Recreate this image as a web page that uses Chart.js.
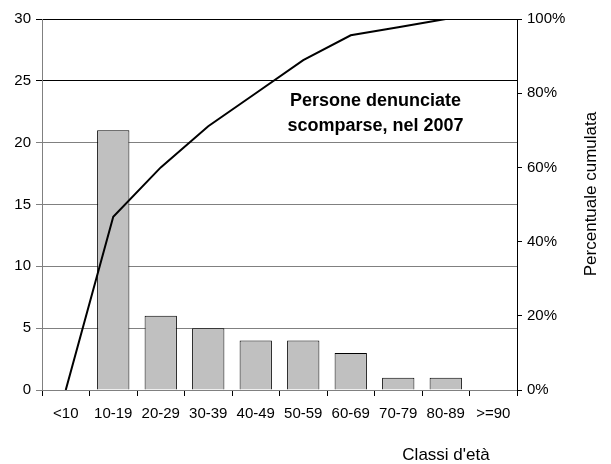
<!DOCTYPE html>
<html>
<head>
<meta charset="utf-8">
<script src="https://cdn.jsdelivr.net/npm/chart.js@4"></script>
<style>
html,body{margin:0;padding:0;background:#fff;}
#wrap{width:611px;height:464px;}
</style>
</head>
<body>
<div id="wrap"><canvas id="c" width="611" height="464"></canvas></div>
<script>
const categories = ['<10','10-19','20-29','30-39','40-49','50-59','60-69','70-79','80-89','>=90'];
const counts = [0, 21, 6, 5, 4, 4, 3, 1, 1, 0];
const cumulativePct = [0, 46.7, 60, 71.1, 80, 88.9, 95.6, 97.8, 100, 100];
const leftTicks = [0, 5, 10, 15, 20, 25, 30];
const rightTicks = [0, 20, 40, 60, 80, 100];
const annotationLines = ['Persone denunciate', 'scomparse, nel 2007'];
const xTitle = "Classi d'età";
const y1Title = 'Percentuale cumulata';

const FONT = "'Liberation Sans', Arial, sans-serif";

const textPlugin = {
  id: 'texts',
  afterDraw(chart) {
    const ctx = chart.ctx;
    const area = chart.chartArea;
    ctx.save();
    ctx.fillStyle = '#000';
    ctx.textAlign = 'center';
    ctx.textBaseline = 'middle';
    ctx.font = 'bold 18px ' + FONT;
    const cx = area.left + (area.right - area.left) * 0.702;
    ctx.fillText(annotationLines[0], cx, 101);
    ctx.fillText(annotationLines[1], cx, 126);
    ctx.font = '17px ' + FONT;
    ctx.fillText(xTitle, 446, 455);
    ctx.translate(591, 194);
    ctx.rotate(-Math.PI / 2);
    ctx.fillText(y1Title, 0, 0);
    ctx.restore();
  }
};

new Chart(document.getElementById('c'), {
  data: {
    labels: categories,
    datasets: [
      {
        type: 'line',
        data: cumulativePct,
        yAxisID: 'y1',
        borderColor: '#000',
        borderWidth: 2,
        pointRadius: 0,
        tension: 0,
        fill: false,
        order: 0
      },
      {
        type: 'bar',
        data: counts,
        yAxisID: 'y',
        backgroundColor: '#c0c0c0',
        borderColor: '#000',
        borderWidth: 1,
        barPercentage: 1,
        categoryPercentage: 0.68,
        order: 1
      }
    ]
  },
  options: {
    responsive: false,
    animation: false,
    layout: { padding: { top: 19, left: 0, right: 0, bottom: 0 } },
    plugins: { legend: { display: false }, tooltip: { enabled: false } },
    scales: {
      x: {
        grid: { display: true, drawOnChartArea: false, offset: true, color: '#000', tickLength: 6 },
        border: { color: '#808080' },
        ticks: { color: '#000', font: { family: FONT, size: 15 }, padding: 9, maxRotation: 0, autoSkip: false },
        afterFit(s) { s.height = 74; }
      },
      y: {
        position: 'left',
        min: 0, max: 30,
        afterBuildTicks(s) { s.ticks = leftTicks.map(v => ({ value: v })); },
        grid: {
          color: ctx => (ctx.tick && ctx.tick.value >= 25) ? '#000' : '#808080',
          tickLength: 6
        },
        border: { color: '#808080' },
        ticks: { color: '#000', font: { family: FONT, size: 15 }, padding: 5 },
        afterFit(s) { s.width = 42; }
      },
      y1: {
        position: 'right',
        min: 0, max: 100,
        afterBuildTicks(s) { s.ticks = rightTicks.map(v => ({ value: v })); },
        grid: { drawOnChartArea: false, color: '#000', tickLength: 5 },
        border: { color: '#000' },
        ticks: { color: '#000', font: { family: FONT, size: 15 }, padding: 5, callback: v => v + '%' },
        afterFit(s) { s.width = 94; }
      }
    }
  },
  plugins: [textPlugin]
});
</script>
</body>
</html>
